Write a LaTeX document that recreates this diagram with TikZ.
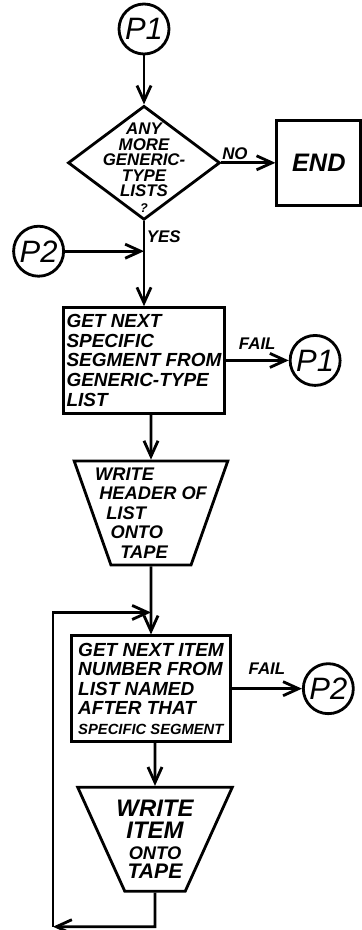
\documentclass[tikz,border=0pt]{standalone}
\usepackage{fontspec}
\setmainfont{Liberation Sans}
\usepackage{tikz}
\usetikzlibrary{shapes.geometric, arrows.meta, positioning}

\begin{document}
\begin{tikzpicture}[
  line width=2pt,
  conn/.style={draw, circle, minimum size=1.25cm, inner sep=0pt,
              font=\fontsize{22}{22}\selectfont\itshape},
  decision/.style={draw, diamond, minimum width=3.8cm, minimum height=2.85cm, inner sep=-0.9cm,
              align=center, font=\fontsize{12}{11}\selectfont\bfseries\itshape},
  process/.style={draw, rectangle, minimum width=3.975cm, minimum height=2.64cm, inner sep=2pt,
              align=left, font=\fontsize{13.5}{13.9}\selectfont\bfseries\itshape},
  tapeout/.style={draw, trapezium, shape border rotate=180, trapezium left angle=70,
              trapezium right angle=70, trapezium stretches=true, minimum width=3.875cm,
              minimum height=2.6cm, inner xsep=-0.5cm, inner ysep=0pt,
              font=\fontsize{13}{13.9}\selectfont\bfseries\itshape},
  endbox/.style={draw, rectangle, minimum width=2.1cm, minimum height=2.125cm,
              font=\fontsize{18}{18}\selectfont\bfseries\itshape},
  arr/.style={-{Straight Barb[length=11pt, width=10pt]}},
  lbl/.style={font=\fontsize{12}{12}\selectfont\bfseries\itshape, inner sep=1pt}
]
\useasboundingbox (0,0) rectangle (9.025,-23.25);

\node[conn] (p1a) at (3.6,-0.725) {P1};
\node[decision, below=1.225cm of p1a] (more)
  {\rule{0pt}{15pt}ANY\\MORE\\GENERIC-\\TYPE\\LISTS\\{\fontsize{9}{9}\selectfont ?}};
\node[endbox, right=1.35cm of more] (finish) {END};
\coordinate[below=0.75cm of more] (j1);
\node[conn, left=1.975cm of j1] (p2a) {P2};

\node[process, below=2.125cm of more] (getseg) {GET NEXT\\SPECIFIC\\SEGMENT FROM\\GENERIC-TYPE\\LIST};
\node[conn, right=1.575cm of getseg] (p1b) {P1};

\node[tapeout, align=left, below=1.125cm of getseg, xshift=0.175cm] (writehdr)
  {WRITE\\\hspace*{3pt}HEADER OF\\\hspace*{8pt}LIST\\\hspace*{11pt}ONTO\\\hspace*{18pt}TAPE};
\coordinate[below=1.15cm of writehdr] (j2);

\node[process, below=1.7cm of writehdr] (getitem)
  {GET NEXT ITEM\\NUMBER FROM\\LIST NAMED\\AFTER THAT\\{\fontsize{10.5}{11}\selectfont SPECIFIC SEGMENT}};
\node[conn, right=1.75cm of getitem] (p2b) {P2};

\node[tapeout, align=center, below=1.075cm of getitem, xshift=0.1cm] (writeitem)
  {{\fontsize{17}{17}\selectfont WRITE}\\[2pt]{\fontsize{17}{17}\selectfont ITEM}\\[1pt]ONTO\\{\fontsize{15}{15}\selectfont TAPE}};
\coordinate[below=0.85cm of writeitem] (lowturn);
\coordinate[left=2.55cm of lowturn] (loopcorner);

\draw[arr] (p1a) -- (more);
\draw[arr] (more) -- node[lbl, above, pos=0.25] {NO} (finish);
\draw[arr] (more) -- node[lbl, right] {YES} (j1) -- (getseg);
\draw[arr] (p2a) -- (j1);
\draw[arr] (getseg) -- node[lbl, above=6pt] {FAIL} (p1b);
\draw[arr] (getseg.south -| writehdr) -- (writehdr);
\draw[arr] (writehdr) -- (getitem);
\draw[arr] (getitem) -- node[lbl, above=8pt] {FAIL} (p2b);
\draw[arr] (getitem.south -| writeitem) -- (writeitem);
\draw[arr] (writeitem) -- (lowturn) -- (loopcorner);
\draw[arr] (loopcorner) |- (j2);

\end{tikzpicture}
\end{document}
